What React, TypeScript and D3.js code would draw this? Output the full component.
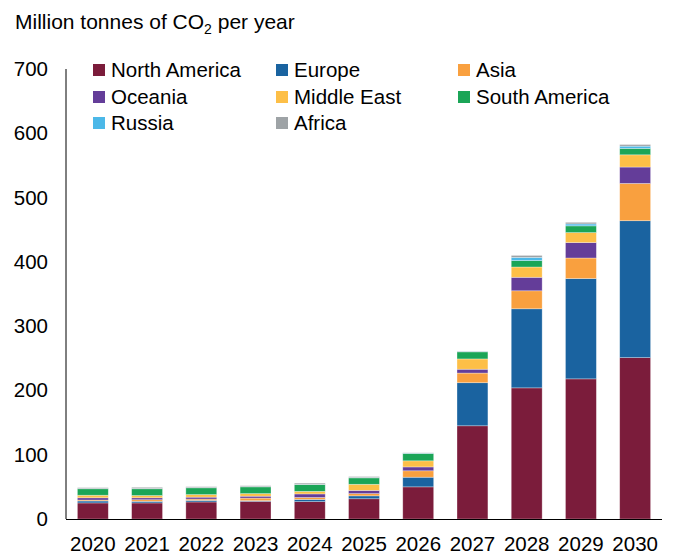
import React from "react";
import * as d3 from "d3";

const years = ["2020", "2021", "2022", "2023", "2024", "2025", "2026", "2027", "2028", "2029", "2030"];
const northAmerica = [25, 25, 26.5, 27.5, 27, 31.5, 50, 145, 204, 218, 251];
const europe = [3, 2.5, 2.5, 1, 3.5, 4.5, 15, 67, 123, 156, 213];
const asia = [1.5, 2.5, 2, 4, 3, 3.5, 10, 15, 28, 32, 58];
const oceania = [3.5, 3, 3, 3, 5.5, 5, 6, 6, 21, 24, 25.5];
const middleEast = [4, 3.5, 4, 4, 4, 9.5, 9.5, 16, 16, 15.5, 19];
const southAmerica = [10, 10.5, 10.5, 10.5, 10.5, 10, 11.5, 11, 10, 10.5, 10];
const russia = [0.3, 0.3, 0.3, 0.3, 0.3, 0.5, 0.5, 0.5, 5, 3, 3.5];
const africa = [1.5, 2, 1.5, 1.5, 2, 1.5, 0.5, 0.5, 3, 2.5, 2.5];
const yTicks = [0, 100, 200, 300, 400, 500, 600, 700];

const seriesNames = ["North America", "Europe", "Asia", "Oceania", "Middle East", "South America", "Russia", "Africa"];
const seriesValues = [northAmerica, europe, asia, oceania, middleEast, southAmerica, russia, africa];
const colors = ["#7B1C3B", "#1A63A0", "#F9A03F", "#643D99", "#FDBF47", "#1BA557", "#4CB8E8", "#9EA3A6"];

const FONT = "'Liberation Sans', Arial, sans-serif";

export default function App() {
  const width = 677;
  const height = 554;
  const x0 = 66, x1 = 662;
  const yBase = 519, yTop = 69;

  const x = d3.scaleBand<string>().domain(years).range([x0, x1]).paddingInner(0.43).paddingOuter(0.21);
  const y = d3.scaleLinear().domain([0, 700]).range([yBase, yTop]);

  const table = years.map((yr, i) => {
    const row: Record<string, any> = { year: yr };
    seriesNames.forEach((s, k) => (row[s] = seriesValues[k][i]));
    return row;
  });
  const stacked = d3.stack<any>().keys(seriesNames)(table);

  const legendCols = [93, 276, 458];
  const legendRows = [70, 97, 123];

  return (
    <svg width={width} height={height} style={{ position: "absolute", left: 0, top: 0, background: "#fff" }}>
      <text x={15} y={29} fontFamily={FONT} fontSize={21} fill="#000">
        Million tonnes of CO<tspan fontSize={14} dy={5}>2</tspan>
        <tspan dy={-5}> per year</tspan>
      </text>
      {stacked.map((layer, k) => (
        <g key={layer.key} fill={colors[k]}>
          {layer.map((d, i) => (
            <rect
              key={i}
              x={x(years[i])}
              width={x.bandwidth()}
              y={y(d[1])}
              height={Math.max(0, y(d[0]) - y(d[1]))}
              stroke="#ffffff"
              strokeOpacity={0.45}
              strokeWidth={0.7}
            />
          ))}
        </g>
      ))}
      <line x1={x0} x2={x0} y1={yTop} y2={yBase} stroke="#000" strokeWidth={1} />
      <line x1={x0} x2={x1} y1={yBase + 0.5} y2={yBase + 0.5} stroke="#000" strokeWidth={1.2} />
      {yTicks.map((t) => (
        <text key={t} x={48} y={y(t) + 7} textAnchor="end" fontFamily={FONT} fontSize={20.5} fill="#000">
          {t}
        </text>
      ))}
      {years.map((yr) => (
        <text key={yr} x={(x(yr) as number) + x.bandwidth() / 2} y={551} textAnchor="middle" fontFamily={FONT} fontSize={20.5} fill="#000">
          {yr}
        </text>
      ))}
      {seriesNames.map((s, k) => {
        const cx = legendCols[k % 3];
        const cy = legendRows[Math.floor(k / 3)];
        return (
          <g key={s}>
            <rect x={cx} y={cy - 6} width={12} height={12} fill={colors[k]} />
            <text x={cx + 18} y={cy + 7} fontFamily={FONT} fontSize={20.5} fill="#000">
              {s}
            </text>
          </g>
        );
      })}
    </svg>
  );
}
